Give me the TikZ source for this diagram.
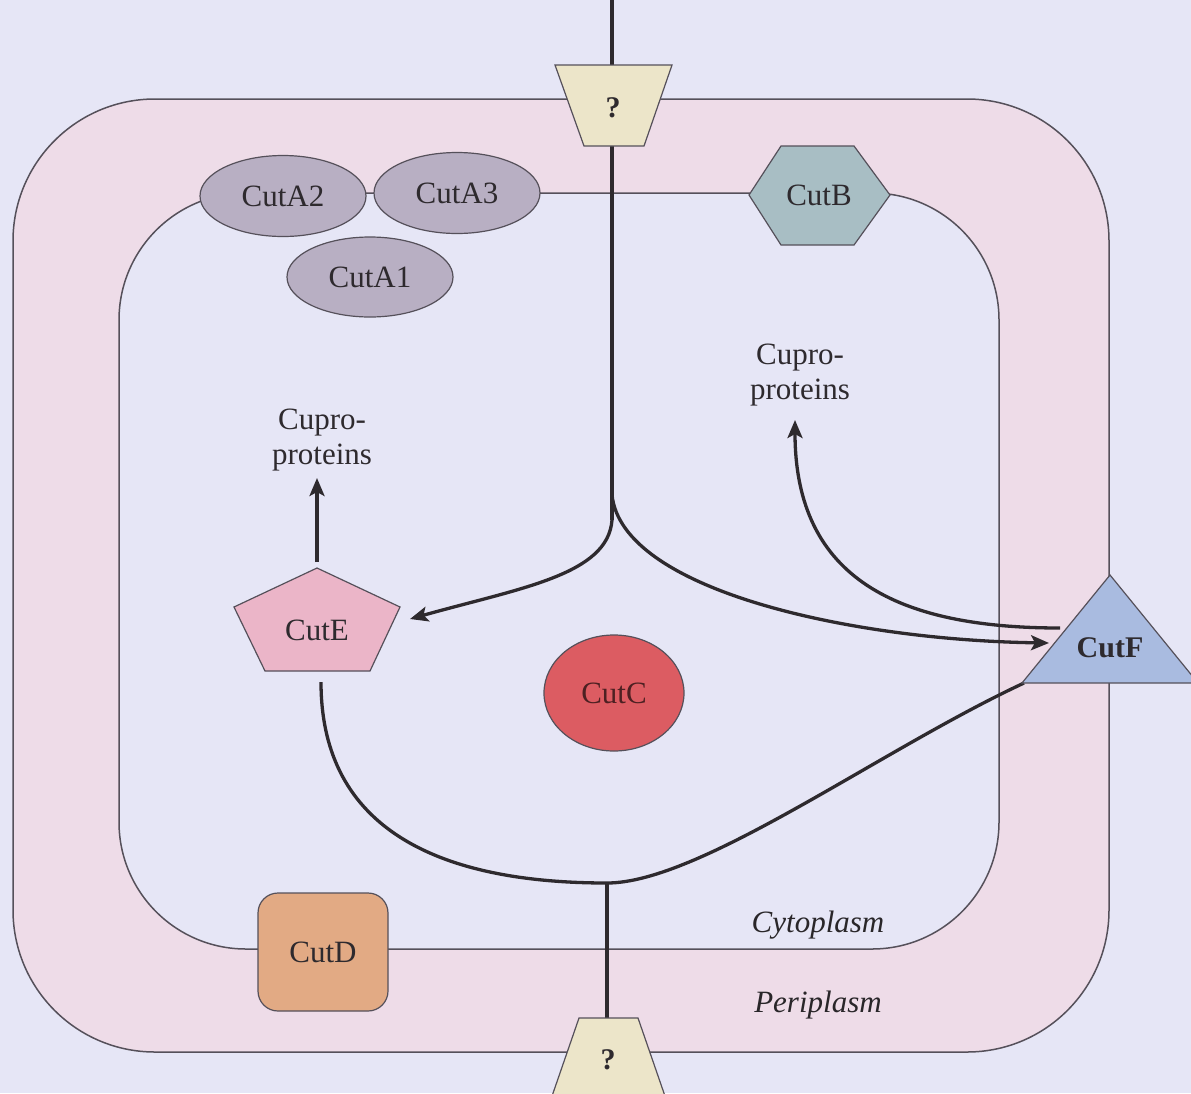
\documentclass[tikz,border=0pt]{standalone}
\usepackage{fontspec}
\setmainfont{Liberation Serif}
\usetikzlibrary{arrows.meta,shapes.geometric}
\definecolor{bg}{HTML}{E6E6F6}
\definecolor{peri}{HTML}{EEDCE8}
\definecolor{cuta}{HTML}{B8AFC3}
\definecolor{cutb}{HTML}{A8BEC4}
\definecolor{cute}{HTML}{EBB5C8}
\definecolor{cutc}{HTML}{DC5C62}
\definecolor{cutd}{HTML}{E2AA84}
\definecolor{cutf}{HTML}{A9BBE0}
\definecolor{trap}{HTML}{ECE5C9}
\definecolor{ink}{HTML}{2E2A2E}
\definecolor{mem}{HTML}{55505A}
\begin{document}
\begin{tikzpicture}[x=1pt,y=-1pt,
  lbl/.style={font=\fontsize{31}{35}\selectfont, text=ink, align=center, inner sep=0pt},
  boldlbl/.style={font=\fontsize{30}{35}\selectfont\bfseries, text=ink, inner sep=0pt},
  itlbl/.style={font=\fontsize{31}{35}\selectfont\itshape, text=ink!90!black, inner sep=0pt},
  prot/.style={draw=mem, line width=1.2pt},
  flow/.style={draw=ink, line width=3.3pt, -{Stealth[length=18pt,width=15pt,inset=4pt]}},
  link/.style={draw=ink, line width=3.3pt},
  membrane/.style={draw=mem, line width=1.5pt}]
\useasboundingbox (0,0) rectangle (1191,1093);
\clip (0,0) rectangle (1191,1093);
\fill[bg] (0,0) rectangle (1191,1093);
% membranes
\filldraw[membrane, fill=peri, rounded corners=142pt] (13,99) rectangle (1109,1052);
\filldraw[membrane, fill=bg, rounded corners=127pt] (119,193) rectangle (999,949);

% connector coordinates
\coordinate (srcTop) at (612,0);
\coordinate (branchR) at (612,495);
\coordinate (branchL) at (612,520);
\coordinate (arrE) at (410,619);
\coordinate (arrF) at (1049,643);
\coordinate (Fout) at (1060,628);
\coordinate (arrCR) at (795,420);
\coordinate (Etop) at (317,562);
\coordinate (arrCL) at (317,478);
\coordinate (Ebot) at (321,682);
\coordinate (junc) at (607,883);
\coordinate (Fbl) at (1024,683);
\coordinate (srcBot) at (607,1093);

% connectors
\draw[link] (srcTop) -- (branchL);
\draw[flow] (branchL) .. controls (608,575) and (520,588) .. (arrE);
\draw[flow] (branchR) .. controls (622,590) and (850,640) .. (arrF);
\draw[flow] (Fout) .. controls (900,628) and (795,580) .. (arrCR);
\draw[flow] (Etop) -- (arrCL);
\draw[link] (Ebot) .. controls (321,830) and (440,883) .. (junc)
             .. controls (700,883) and (880,750) .. (Fbl);
\draw[link] (junc) -- (srcBot);

% transporters "?"
\filldraw[prot, fill=trap] (555,65) -- (672,65) -- (644,146) -- (584,146) -- cycle;
\node[boldlbl] (qTop) at (613,108) {?};
\filldraw[prot, fill=trap] (579,1018) -- (638,1018) -- (666,1099) -- (551,1099) -- cycle;
\node[boldlbl] (qBot) at (608,1060) {?};

% CutA complex
\node[ellipse, prot, fill=cuta, minimum width=166pt, minimum height=81pt, lbl] (cutA2) at (283,196) {CutA2};
\node[ellipse, prot, fill=cuta, minimum width=166pt, minimum height=81pt, lbl] (cutA3) at (457,193) {CutA3};
\node[ellipse, prot, fill=cuta, minimum width=166pt, minimum height=80pt, lbl] (cutA1) at (370,277) {CutA1};

% CutB
\filldraw[prot, fill=cutb] (749,195) -- (781,146) -- (854,146) -- (890,195) -- (854,245) -- (781,245) -- cycle;
\node[lbl] (cutB) at (819,195) {CutB};

% CutE
\filldraw[prot, fill=cute] (317,568) -- (400,607) -- (370,671) -- (265,671) -- (234,607) -- cycle;
\node[lbl] (cutE) at (317,630) {CutE};

% CutC
\node[ellipse, prot, fill=cutc, minimum width=140pt, minimum height=116pt, lbl, text=cutc!35!black] (cutC) at (614,693) {CutC};

% CutD
\node[prot, fill=cutd, rounded corners=20pt, minimum width=130pt, minimum height=118pt, lbl] (cutD) at (323,952) {CutD};

% CutF
\filldraw[prot, fill=cutf] (1110,575) -- (1198,683) -- (1022,683) -- cycle;
\node[boldlbl] (cutF) at (1110,648) {CutF};

% labels
\node[lbl] (cuproL) at (322,440) {Cupro-\\proteins};
\node[lbl] (cuproR) at (800,375) {Cupro-\\proteins};
\node[itlbl] (cyto) at (818,925) {Cytoplasm};
\node[itlbl] (peri) at (818,1005) {Periplasm};
\end{tikzpicture}
\end{document}
